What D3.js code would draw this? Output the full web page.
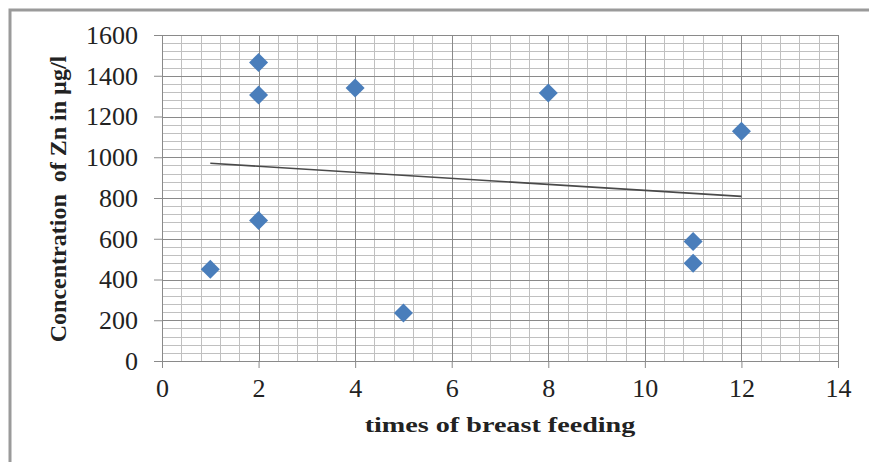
<!DOCTYPE html>
<html>
<head>
<meta charset="utf-8">
<script src="https://cdn.jsdelivr.net/npm/d3@7"></script>
<style>
  body { margin: 0; background: #fff; }
  text { font-family: "Liberation Serif", "Times New Roman", serif; fill: #222; }
</style>
</head>
<body>
<div class="chart"></div>
<script>
// data
var timesFed = [1, 2, 2, 2, 4, 5, 8, 11, 11, 12];
var znConc = [450, 1465, 1305, 690, 1340, 235, 1315, 587, 480, 1128];
var xTicks = [0, 2, 4, 6, 8, 10, 12, 14];
var yTicks = [0, 200, 400, 600, 800, 1000, 1200, 1400, 1600];

var svgWidth = 869, svgHeight = 462;
var margin = {top: 35, right: 31, bottom: 101, left: 162};
var width = svgWidth - margin.left - margin.right;
var height = svgHeight - margin.top - margin.bottom;

var svg = d3.select(".chart").append("svg")
  .attr("width", svgWidth)
  .attr("height", svgHeight);

// outer frame (only top & left visible)
svg.append("rect")
  .attr("x", 10).attr("y", 10)
  .attr("width", svgWidth + 20).attr("height", svgHeight + 20)
  .attr("fill", "none")
  .attr("stroke", "#9a9a9a")
  .attr("stroke-width", 3);

var chartGroup = svg.append("g")
  .attr("transform", `translate(${margin.left}, ${margin.top})`);

var x = d3.scaleLinear().domain([0, 14]).range([0, width]);
var y = d3.scaleLinear().domain([0, 1600]).range([height, 0]);

// minor grid
var xMinor = d3.range(0, 14.001, 0.4);
var yMinor = d3.range(0, 1600.1, 40);
chartGroup.append("g").selectAll("line")
  .data(xMinor).enter().append("line")
  .attr("x1", d => Math.round(x(d)) + 0.5).attr("x2", d => Math.round(x(d)) + 0.5)
  .attr("y1", 0).attr("y2", height)
  .attr("stroke", "#c0c0c0").attr("stroke-width", 1);
chartGroup.append("g").selectAll("line")
  .data(yMinor).enter().append("line")
  .attr("y1", d => Math.round(y(d)) + 0.5).attr("y2", d => Math.round(y(d)) + 0.5)
  .attr("x1", 0).attr("x2", width)
  .attr("stroke", "#c0c0c0").attr("stroke-width", 1);

// major grid
chartGroup.append("g").selectAll("line")
  .data(xTicks).enter().append("line")
  .attr("x1", d => Math.round(x(d)) + 0.5).attr("x2", d => Math.round(x(d)) + 0.5)
  .attr("y1", 0).attr("y2", height)
  .attr("stroke", "#8a8a8a").attr("stroke-width", 1);
chartGroup.append("g").selectAll("line")
  .data(yTicks).enter().append("line")
  .attr("y1", d => Math.round(y(d)) + 0.5).attr("y2", d => Math.round(y(d)) + 0.5)
  .attr("x1", 0).attr("x2", width)
  .attr("stroke", "#8a8a8a").attr("stroke-width", 1);

// axes
var bottomAxis = d3.axisBottom(x).tickValues(xTicks).tickFormat(d3.format("d"))
  .tickSize(7).tickPadding(11);
var leftAxis = d3.axisLeft(y).tickValues(yTicks).tickFormat(d3.format("d"))
  .tickSize(8).tickPadding(16);

var xAxisG = chartGroup.append("g")
  .attr("transform", `translate(0, ${height})`)
  .call(bottomAxis);
var yAxisG = chartGroup.append("g").call(leftAxis);

[xAxisG, yAxisG].forEach(function(g) {
  g.attr("font-family", null).attr("font-size", null);
  g.selectAll("path.domain").attr("stroke", "#8a8a8a");
  g.selectAll(".tick line").attr("stroke", "#8a8a8a");
  g.selectAll(".tick text")
    .style("font-family", "'Liberation Serif', 'Times New Roman', serif")
    .style("font-size", "26px")
    .attr("fill", "#222");
});

// trend line (least squares from the points)
var mx = d3.mean(timesFed), my = d3.mean(znConc);
var sxy = d3.sum(timesFed, (v, i) => (v - mx) * (znConc[i] - my));
var sxx = d3.sum(timesFed, v => (v - mx) * (v - mx));
var slope = sxy / sxx, icpt = my - slope * mx;
var xMin = d3.min(timesFed), xMax = d3.max(timesFed);
chartGroup.append("line")
  .attr("x1", x(xMin)).attr("y1", y(icpt + slope * xMin))
  .attr("x2", x(xMax)).attr("y2", y(icpt + slope * xMax))
  .attr("stroke", "#4a4a4a").attr("stroke-width", 1.6);

// points
var diamond = d3.symbol().type(d3.symbolDiamond2).size(230);
chartGroup.selectAll("path.pt")
  .data(timesFed).enter().append("path")
  .attr("class", "pt")
  .attr("transform", (d, i) => `translate(${x(d)}, ${y(znConc[i])})`)
  .attr("d", diamond)
  .attr("fill", "#4a7ebb");

// axis titles
svg.append("text")
  .attr("transform", "translate(500, 432) scale(1.28, 1)")
  .attr("text-anchor", "middle")
  .style("font-size", "22px")
  .style("font-weight", "bold")
  .text("times of breast feeding");

svg.append("text")
  .attr("transform", "translate(66, 199) rotate(-90)")
  .attr("text-anchor", "middle")
  .style("font-size", "24px")
  .style("font-weight", "bold")
  .style("white-space", "pre")
  .text("Concentration  of Zn in µg/l");
</script>
</body>
</html>
